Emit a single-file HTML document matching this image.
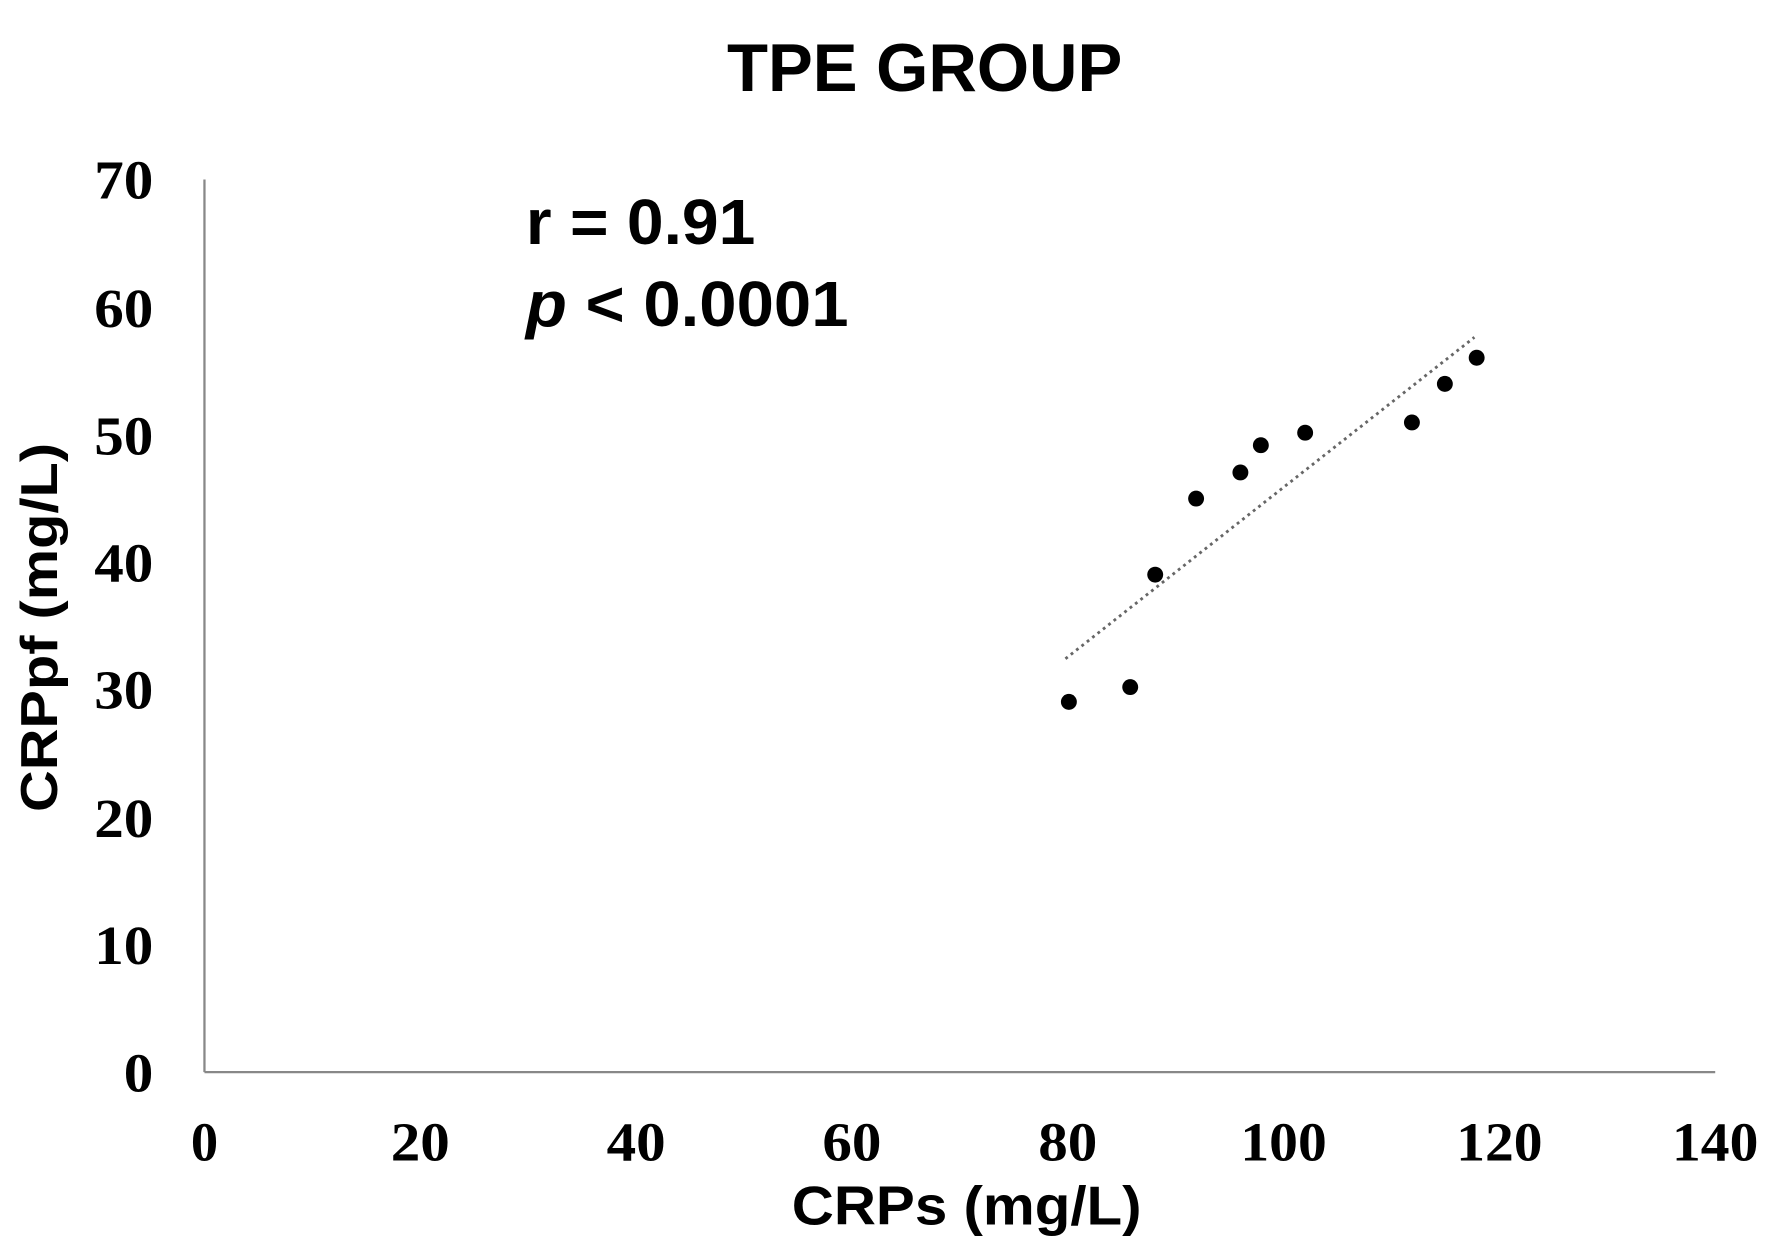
<!DOCTYPE html>
<html><head><style>html,body{margin:0;padding:0;background:#fff}svg{display:block}</style></head>
<body>
<svg width="1772" height="1247" viewBox="0 0 1560 1098" preserveAspectRatio="none" xmlns="http://www.w3.org/2000/svg">
<rect width="1560" height="1098" fill="#fff"/>
<text x="640" y="80" textLength="348" lengthAdjust="spacingAndGlyphs" font-family="Liberation Sans, sans-serif" font-weight="bold" font-size="60" fill="#000">TPE GROUP</text>
<line x1="180" y1="158" x2="180" y2="944" stroke="#888" stroke-width="2"/>
<line x1="180" y1="944" x2="1510" y2="944" stroke="#888" stroke-width="2"/>
<g font-family="Liberation Serif, serif" font-weight="bold" font-size="48" fill="#000" text-anchor="end">
<text x="135" y="961" textLength="26" lengthAdjust="spacingAndGlyphs">0</text>
<text x="135" y="849" textLength="52" lengthAdjust="spacingAndGlyphs">10</text>
<text x="135" y="737" textLength="52" lengthAdjust="spacingAndGlyphs">20</text>
<text x="135" y="624" textLength="52" lengthAdjust="spacingAndGlyphs">30</text>
<text x="135" y="512" textLength="52" lengthAdjust="spacingAndGlyphs">40</text>
<text x="135" y="400" textLength="52" lengthAdjust="spacingAndGlyphs">50</text>
<text x="135" y="288" textLength="52" lengthAdjust="spacingAndGlyphs">60</text>
<text x="135" y="175" textLength="52" lengthAdjust="spacingAndGlyphs">70</text>
</g>
<g font-family="Liberation Serif, serif" font-weight="bold" font-size="48" fill="#000" text-anchor="middle">
<text x="180" y="1022">0</text>
<text x="370" y="1022" textLength="52" lengthAdjust="spacingAndGlyphs">20</text>
<text x="560" y="1022" textLength="52" lengthAdjust="spacingAndGlyphs">40</text>
<text x="750" y="1022" textLength="52" lengthAdjust="spacingAndGlyphs">60</text>
<text x="940" y="1022" textLength="52" lengthAdjust="spacingAndGlyphs">80</text>
<text x="1130" y="1022" textLength="76" lengthAdjust="spacingAndGlyphs">100</text>
<text x="1320" y="1022" textLength="76" lengthAdjust="spacingAndGlyphs">120</text>
<text x="1510" y="1022" textLength="76" lengthAdjust="spacingAndGlyphs">140</text>
</g>
<text x="697" y="1078" textLength="308" lengthAdjust="spacingAndGlyphs" font-family="Liberation Sans, sans-serif" font-weight="bold" font-size="48" fill="#000">CRPs (mg/L)</text>
<text transform="translate(50,715) rotate(-90)" x="0" y="0" textLength="325" lengthAdjust="spacingAndGlyphs" font-family="Liberation Sans, sans-serif" font-weight="bold" font-size="46" fill="#000">CRPpf (mg/L)</text>
<text x="463" y="215" textLength="202" lengthAdjust="spacingAndGlyphs" font-family="Liberation Sans, sans-serif" font-weight="bold" font-size="56" fill="#000">r = 0.91</text>
<text x="463" y="287" textLength="284" lengthAdjust="spacingAndGlyphs" font-family="Liberation Sans, sans-serif" font-weight="bold" font-size="56" fill="#000"><tspan font-style="italic">p</tspan> &lt; 0.0001</text>
<line x1="938" y1="580" x2="1298" y2="297" stroke="#666" stroke-width="2.5" stroke-dasharray="2.5,3.5"/>
<g fill="#000">
<circle cx="941" cy="618" r="7"/><circle cx="995" cy="605" r="7"/><circle cx="1017" cy="506" r="7"/>
<circle cx="1053" cy="439" r="7"/><circle cx="1092" cy="416" r="7"/><circle cx="1110" cy="392" r="7"/>
<circle cx="1149" cy="381" r="7"/><circle cx="1243" cy="372" r="7"/><circle cx="1272" cy="338" r="7"/>
<circle cx="1300" cy="315" r="7"/>
</g>
</svg>
</body></html>
